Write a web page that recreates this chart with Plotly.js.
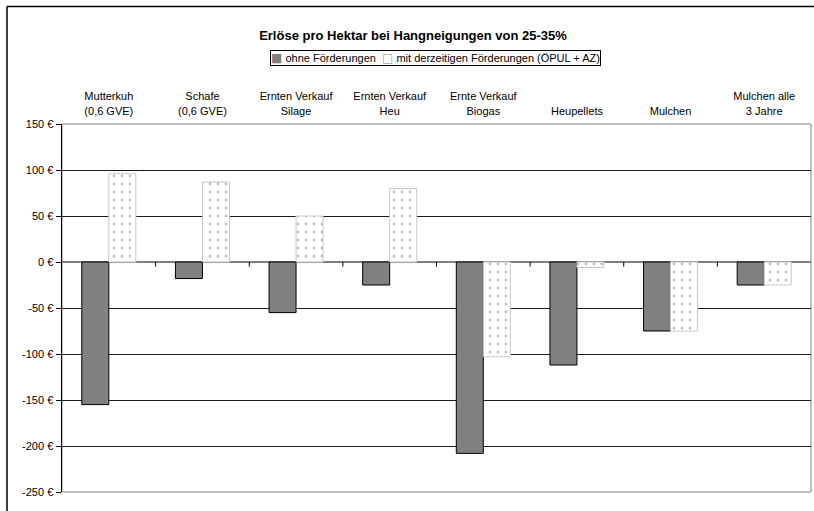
<!DOCTYPE html>
<html>
<head>
<meta charset="utf-8">
<script src="https://cdn.plot.ly/plotly-3.0.1.min.js"></script>
<style>html,body{margin:0;padding:0;background:#fff;overflow:hidden;}#chart{width:814px;height:511px;}</style>
</head>
<body>
<div id="chart"></div>
<script>
const categories = [
  "Mutterkuh<br>(0,6 GVE)",
  "Schafe<br>(0,6 GVE)",
  "Ernten Verkauf<br>Silage",
  "Ernten Verkauf<br>Heu",
  "Ernte Verkauf<br>Biogas",
  "Heupellets",
  "Mulchen",
  "Mulchen alle<br>3 Jahre"
];
const ohneFoerderungen = [-155, -18, -55, -25, -208, -112, -75, -25];
const mitFoerderungen = [96, 87, 50, 80, -103, -6, -75, -25];
const seriesNames = ["ohne Förderungen", "mit derzeitigen Förderungen (ÖPUL + AZ)"];
const seriesColors = ["#808080", "#ffffff"];
const yTickVals = [-250, -200, -150, -100, -50, 0, 50, 100, 150];
const yTickText = ["-250 €", "-200 €", "-150 €", "-100 €", "-50 €", "0 €", "50 €", "100 €", "150 €"];

const fontFam = "Liberation Sans, Arial, sans-serif";

const traces = [
  {
    type: "bar", name: seriesNames[0], x: categories, y: ohneFoerderungen,
    marker: {color: seriesColors[0], line: {color: "#000", width: 1}},
    hoverinfo: "skip", showlegend: false
  },
  {
    type: "bar", name: seriesNames[1], x: categories, y: mitFoerderungen,
    marker: {color: seriesColors[1], line: {color: "#c8c8c8", width: 1},
      pattern: {shape: ".", fgcolor: "#c0c0c0", bgcolor: "#ffffff", size: 8, solidity: 0.1}},
    hoverinfo: "skip", showlegend: false
  }
];

const shapes = [];
// plot area border
shapes.push({type: "rect", xref: "paper", yref: "paper", x0: 0, x1: 1, y0: 0, y1: 1,
  line: {color: "#808080", width: 1}, layer: "between"});
// category boundary tick marks on the zero line
for (let i = 0; i < categories.length - 1; i++) {
  shapes.push({type: "line", xref: "x", yref: "y", x0: i + 0.5, x1: i + 0.5, y0: 0, y1: -5,
    line: {color: "#000", width: 1}});
}
// outer chart frame (left and top edges visible; right/bottom off-canvas)
shapes.push({type: "line", xref: "paper", yref: "paper",
  x0: (7 - 62) / 749, x1: (7 - 62) / 749, y0: -0.2, y1: (492 - 6.5) / 368,
  line: {color: "#000", width: 1.5}, layer: "below"});
shapes.push({type: "line", xref: "paper", yref: "paper",
  x0: (7 - 62) / 749, x1: 1.2, y0: (492 - 6.5) / 368, y1: (492 - 6.5) / 368,
  line: {color: "#000", width: 1.5}, layer: "below"});

// legend box drawn as a bordered annotation (compact, like the original)
const sq = (c) => '<span style="font-family:DejaVu Sans;font-size:12px;color:' + c + '">' +
  (c === "#a8a8a8" ? "□" : "■") + '</span>';
const legendText = sq(seriesColors[0]) + ' ' + seriesNames[0] + '  ' + sq("#a8a8a8") + ' ' + seriesNames[1];

const layout = {
  width: 814, height: 511,
  margin: {l: 62, r: 3, t: 124, b: 19, pad: 0},
  paper_bgcolor: "#fff", plot_bgcolor: "#fff",
  font: {family: fontFam, size: 11, color: "#000"},
  title: {text: "<b>Erlöse pro Hektar bei Hangneigungen von 25-35%</b>",
    font: {family: fontFam, size: 13, color: "#000"},
    xref: "container", yref: "container", x: 413 / 814, xanchor: "center", y: 1 - 35 / 511, yanchor: "middle"},
  barmode: "group", bargap: 0.423, bargroupgap: 0,
  showlegend: false,
  annotations: [{
    text: legendText, xref: "paper", yref: "paper",
    x: 0.4993, y: (492 - 58.5) / 368, xanchor: "center", yanchor: "middle",
    showarrow: false, bordercolor: "#000", borderwidth: 1, borderpad: 0, bgcolor: "#fff",
    font: {family: fontFam, size: 11, color: "#000"}
  }],
  xaxis: {type: "category", side: "top", showgrid: false, showline: false, zeroline: false,
    ticks: "", tickfont: {family: fontFam, size: 11, color: "#000"}, fixedrange: true,
    ticklabelstandoff: 6},
  yaxis: {range: [-250, 150], tickmode: "array", tickvals: yTickVals, ticktext: yTickText,
    showgrid: true, gridcolor: "#1a1a1a", gridwidth: 1,
    zeroline: true, zerolinecolor: "#808080", zerolinewidth: 1.5,
    showline: true, linecolor: "#000", linewidth: 1.5,
    ticks: "outside", ticklen: 5, tickcolor: "#000", tickwidth: 1,
    tickfont: {family: fontFam, size: 11, color: "#000"}, fixedrange: true},
  shapes: shapes
};

Plotly.newPlot("chart", traces, layout, {displayModeBar: false, staticPlot: true});
</script>
</body>
</html>
